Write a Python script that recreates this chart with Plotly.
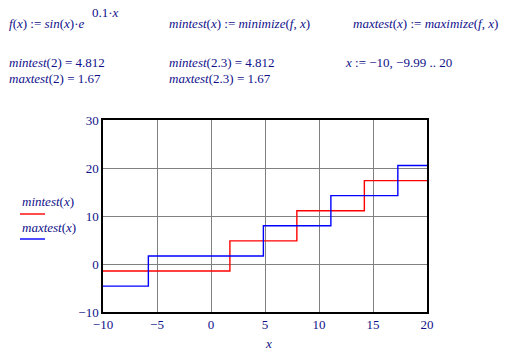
import plotly.graph_objects as go

# step data (x where each level starts, level value)
mintest_x = [-10, 1.75, 7.95, 14.2, 20]
mintest_y = [-1.471, 4.812, 11.095, 17.378, 17.378]
maxtest_x = [-10, -5.8, 4.85, 11.1, 17.3, 20]
maxtest_y = [-4.612, 1.671, 7.954, 14.237, 20.52, 20.52]

x_ticks = [-10, -5, 0, 5, 10, 15, 20]
y_ticks = [-10, 0, 10, 20, 30]

W, H = 511, 354
L, R, T, B = 103, 427, 120, 312
NAVY = "#10108a"
FONT = "Liberation Serif"


def px(x):
    return (x - L) / (R - L)


def py(y):
    return (B - y) / (B - T)


fig = go.Figure()
fig.add_trace(go.Scatter(x=mintest_x, y=mintest_y, mode="lines",
                         line=dict(color="#ff0000", width=1.4, shape="hv"),
                         showlegend=False, hoverinfo="skip"))
fig.add_trace(go.Scatter(x=maxtest_x, y=maxtest_y, mode="lines",
                         line=dict(color="#0000ff", width=1.4, shape="hv"),
                         showlegend=False, hoverinfo="skip"))

axis_common = dict(showgrid=True, gridcolor="#808080", gridwidth=1,
                   zeroline=False, showline=True, linecolor="black",
                   linewidth=1.5, mirror=True, ticks="",
                   tickfont=dict(family=FONT, size=13, color=NAVY))
fig.update_xaxes(range=[-10, 20], tickvals=x_ticks, **axis_common)
fig.update_yaxes(range=[-10, 30], tickvals=y_ticks, **axis_common)

texts = [
    (7, 23, "<i>f</i>(<i>x</i>) := <i>sin</i>(<i>x</i>)·<i>e</i>"),
    (90, 13, "0.1·<i>x</i>"),
    (167, 23, "<i>mintest</i>(<i>x</i>) := <i>minimize</i>(<i>f</i>, <i>x</i>)"),
    (351, 23, "<i>maxtest</i>(<i>x</i>) := <i>maximize</i>(<i>f</i>, <i>x</i>)"),
    (7, 62, "<i>mintest</i>(2) = 4.812"),
    (7, 78, "<i>maxtest</i>(2) = 1.67"),
    (167, 62, "<i>mintest</i>(2.3) = 4.812"),
    (167, 78, "<i>maxtest</i>(2.3) = 1.67"),
    (343, 62, "<i>x</i> := −10, −9.99 .. 20"),
    (20, 201, "<i>mintest</i>(<i>x</i>)"),
    (20, 227, "<i>maxtest</i>(<i>x</i>)"),
]
annotations = []
for x, y, t in texts:
    annotations.append(dict(x=px(x), y=py(y), xref="paper", yref="paper",
                            text=t, showarrow=False, xanchor="left",
                            yanchor="middle",
                            font=dict(family=FONT, size=13, color=NAVY)))
annotations.append(dict(x=px(268), y=py(343), xref="paper", yref="paper",
                        text="<i>x</i>", showarrow=False, xanchor="center",
                        yanchor="middle",
                        font=dict(family=FONT, size=13, color=NAVY)))

shapes = [
    dict(type="line", xref="paper", yref="paper", x0=px(20), x1=px(45),
         y0=py(214), y1=py(214), line=dict(color="#ff0000", width=1.4)),
    dict(type="line", xref="paper", yref="paper", x0=px(20), x1=px(45),
         y0=py(239), y1=py(239), line=dict(color="#0000ff", width=1.4)),
]

fig.update_layout(width=W, height=H,
                  margin=dict(l=L, r=W - R, t=T, b=H - B, pad=0),
                  paper_bgcolor="white", plot_bgcolor="white",
                  annotations=annotations, shapes=shapes,
                  showlegend=False)

fig.write_html("out.html")
